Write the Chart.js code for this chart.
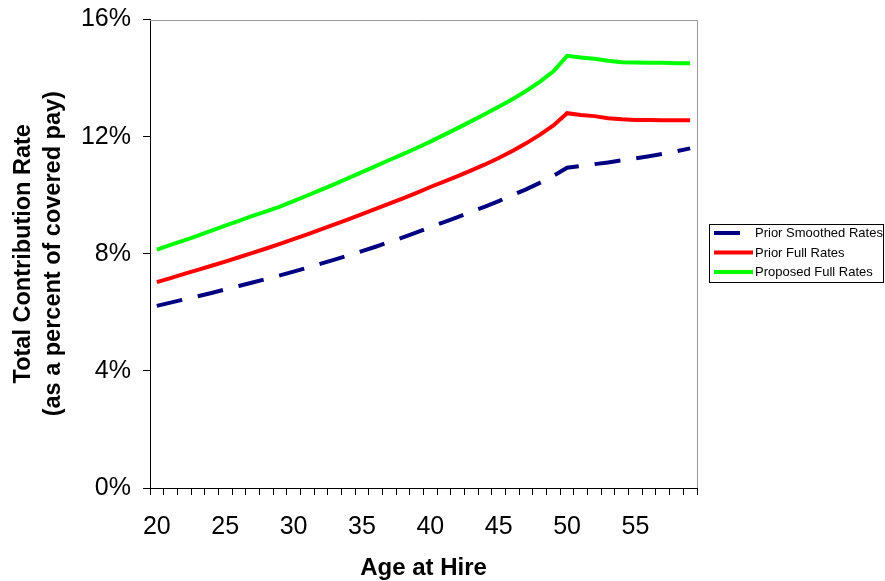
<!DOCTYPE html>
<html>
<head>
<meta charset="utf-8">
<script src="https://cdn.jsdelivr.net/npm/chart.js@4.4.1/dist/chart.umd.min.js"></script>
<style>
  html, body { margin: 0; padding: 0; background: #fff; }
  #wrap { position: relative; width: 885px; height: 581px; }
</style>
</head>
<body>
<div id="wrap"><canvas id="c" width="885" height="581"></canvas></div>
<script>
// ---- Data ----
const ages = [20,21,22,23,24,25,26,27,28,29,30,31,32,33,34,35,36,37,38,39,40,41,42,43,44,45,46,47,48,49,50,51,52,53,54,55,56,57,58,59];
const priorSmoothed = [6.22,6.33,6.44,6.55,6.66,6.78,6.90,7.02,7.14,7.26,7.39,7.52,7.66,7.80,7.94,8.09,8.24,8.40,8.56,8.73,8.91,9.08,9.25,9.43,9.61,9.80,10.00,10.20,10.42,10.66,10.94,11.00,11.06,11.12,11.19,11.26,11.33,11.41,11.50,11.60];
const priorFull = [7.03,7.17,7.31,7.45,7.59,7.73,7.88,8.03,8.18,8.34,8.50,8.66,8.83,9.00,9.17,9.35,9.53,9.71,9.89,10.08,10.28,10.46,10.65,10.85,11.05,11.27,11.51,11.77,12.06,12.38,12.80,12.74,12.70,12.63,12.59,12.57,12.57,12.56,12.56,12.56];
const proposedFull = [8.14,8.30,8.46,8.62,8.79,8.96,9.12,9.29,9.45,9.61,9.80,9.99,10.18,10.38,10.58,10.79,10.99,11.20,11.40,11.61,11.83,12.06,12.29,12.53,12.77,13.02,13.28,13.56,13.87,14.23,14.76,14.70,14.66,14.59,14.54,14.53,14.52,14.52,14.51,14.51];
const xTickLabels = [20,25,30,35,40,45,50,55];
const yTicks = [0,4,8,12,16];
const seriesNames = ['Prior Smoothed Rates','Prior Full Rates','Proposed Full Rates'];

const FONT = "'Liberation Sans', Arial, sans-serif";

const framePlugin = {
  id: 'frame',
  afterDraw(chart) {
    const {ctx, chartArea: a} = chart;
    ctx.save();
    ctx.strokeStyle = '#999999';
    ctx.lineWidth = 1;
    ctx.beginPath();
    ctx.moveTo(a.left, Math.round(a.top) + 0.5);
    ctx.lineTo(Math.round(a.right) + 0.5, Math.round(a.top) + 0.5);
    ctx.lineTo(Math.round(a.right) + 0.5, a.bottom);
    ctx.stroke();
    ctx.restore();
  }
};

const legendPlugin = {
  id: 'boxLegend',
  afterDraw(chart) {
    const ctx = chart.ctx;
    ctx.save();
    ctx.strokeStyle = '#000';
    ctx.lineWidth = 1;
    ctx.strokeRect(709.5, 224.5, 174, 58);
    chart.data.datasets.forEach((ds, i) => {
      const y = 233 + i * 19.5;
      ctx.beginPath();
      ctx.strokeStyle = ds.borderColor;
      ctx.lineWidth = 4;
      ctx.setLineDash(ds.borderDash || []);
      ctx.moveTo(714, y);
      ctx.lineTo(753, y);
      ctx.stroke();
      ctx.setLineDash([]);
      ctx.fillStyle = '#000';
      ctx.font = '13px ' + FONT;
      ctx.textBaseline = 'middle';
      ctx.textAlign = 'left';
      ctx.fillText(ds.label, 755, y + 0.5);
    });
    ctx.restore();
  }
};

new Chart(document.getElementById('c'), {
  type: 'line',
  data: {
    labels: ages,
    datasets: [
      { label: seriesNames[0], data: priorSmoothed, borderColor: '#000080', borderWidth: 4, borderDash: [26, 16], borderCapStyle: 'butt', pointRadius: 0, tension: 0, fill: false },
      { label: seriesNames[1], data: priorFull, borderColor: '#FF0000', borderWidth: 4, pointRadius: 0, tension: 0, fill: false },
      { label: seriesNames[2], data: proposedFull, borderColor: '#00FF00', borderWidth: 4, pointRadius: 0, tension: 0, fill: false }
    ]
  },
  options: {
    responsive: false,
    animation: false,
    devicePixelRatio: 1,
    layout: { padding: { top: 19, right: 188, left: 0, bottom: 0 } },
    plugins: { legend: { display: false }, tooltip: { enabled: false } },
    scales: {
      x: {
        type: 'category',
        offset: true,
        afterFit(scale) { scale.height = 93; },
        grid: { offset: true, drawOnChartArea: false, drawTicks: true, tickLength: 7, color: '#000', lineWidth: 1 },
        border: { display: true, color: '#000', width: 1 },
        ticks: {
          autoSkip: false, maxRotation: 0, minRotation: 0, padding: 17,
          color: '#000', font: { family: FONT, size: 25 },
          callback(v, i) { const a = ages[i]; return xTickLabels.includes(a) ? String(a) : ''; }
        },
        title: { display: true, text: 'Age at Hire', color: '#000', font: { family: FONT, size: 24, weight: 'bold', lineHeight: 1.0 }, padding: { top: 0, bottom: 1 } }
      },
      y: {
        min: 0, max: 16,
        afterFit(scale) { scale.width = 150; },
        afterBuildTicks(scale) { scale.ticks = yTicks.map(v => ({ value: v })); },
        grid: { drawOnChartArea: false, drawTicks: true, tickLength: 7, color: '#000', lineWidth: 1 },
        border: { display: true, color: '#000', width: 1 },
        ticks: { padding: 12, color: '#000', font: { family: FONT, size: 25, lineHeight: 0.6 }, callback: v => v + '%' },
        title: { display: true, text: ['Total Contribution Rate', '(as a percent of covered pay)'], color: '#000', font: { family: FONT, size: 23.5, weight: 'bold', lineHeight: 1.25 }, padding: { top: 9, bottom: 0 } }
      }
    }
  },
  plugins: [framePlugin, legendPlugin]
});
</script>
</body>
</html>
